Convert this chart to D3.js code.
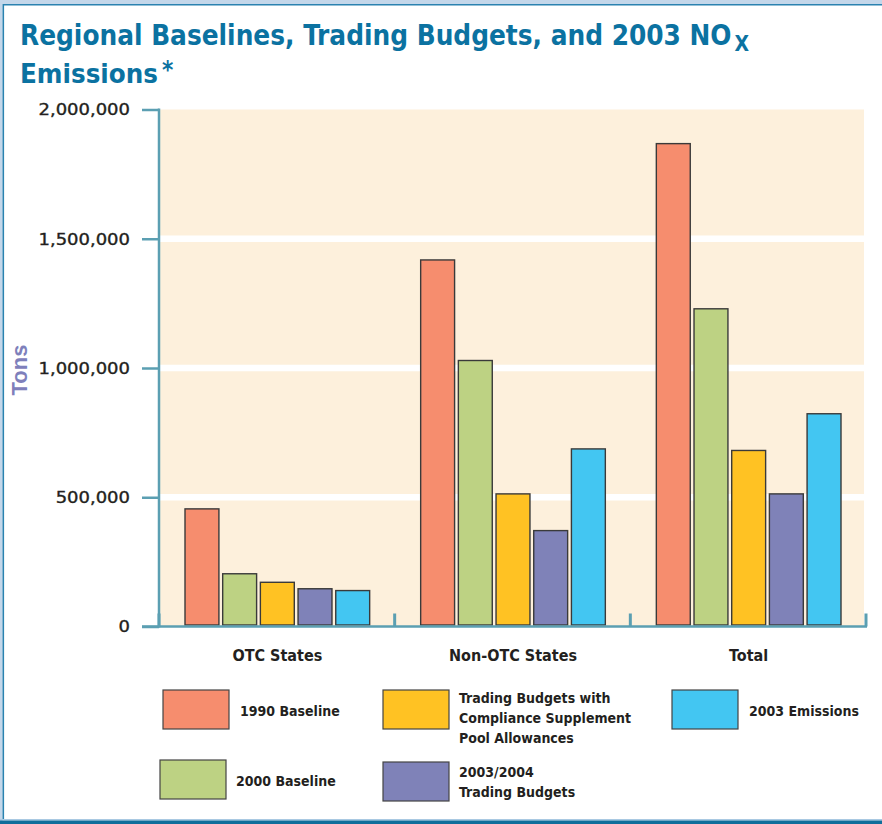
<!DOCTYPE html>
<html>
<head>
<meta charset="utf-8">
<script src="https://cdn.jsdelivr.net/npm/d3@7"></script>
<style>
  html, body { margin: 0; padding: 0; background: #ffffff; }
  svg { display: block; }
  .cond { font-family: "DejaVu Sans Condensed", "Liberation Sans Narrow", "Arial Narrow", "Liberation Sans", sans-serif; font-weight: bold; }
</style>
</head>
<body>
<svg id="chart" width="882" height="824"></svg>
<script>
// Regions on the x axis
const categories = ["OTC States", "Non-OTC States", "Total"];

// Series (tons of NOx)
const seriesNames = [
  "1990 Baseline",
  "2000 Baseline",
  "Trading Budgets with Compliance Supplement Pool Allowances",
  "2003/2004 Trading Budgets",
  "2003 Emissions"
];
const baseline1990 = [455000, 1418000, 1868000];
const baseline2000 = [204000, 1029000, 1229000];
const budgetsWithCSP = [171000, 513000, 681000];
const budgets2003_2004 = [146000, 371000, 513000];
const emissions2003 = [139000, 687000, 823000];
const seriesValues = [baseline1990, baseline2000, budgetsWithCSP, budgets2003_2004, emissions2003];
const seriesColors = ["#f68d6e", "#bdd283", "#ffc223", "#7f82b8", "#43c6f2"];

// Axis ticks
const yTicks = [0, 500000, 1000000, 1500000, 2000000];

// Legend text, split into lines
const legendLines = [
  ["1990 Baseline"],
  ["2000 Baseline"],
  ["Trading Budgets with", "Compliance Supplement", "Pool Allowances"],
  ["2003/2004", "Trading Budgets"],
  ["2003 Emissions"]
];

const svg = d3.select("#chart");
const axisColor = "#5b9fb2";

// ---- Page frame ----
svg.append("rect").attr("x", 0).attr("y", 0).attr("width", 882).attr("height", 4).attr("fill", "#c4d7ea");
svg.append("rect").attr("x", 0).attr("y", 0).attr("width", 2.5).attr("height", 824).attr("fill", "#c4d7ea");
svg.append("line").attr("x1", 3).attr("x2", 882).attr("y1", 4.8).attr("y2", 4.8).attr("stroke", "#2b82b0").attr("stroke-width", 1.6);
svg.append("line").attr("x1", 3.3).attr("x2", 3.3).attr("y1", 4).attr("y2", 820).attr("stroke", "#2b82b0").attr("stroke-width", 1.6);
svg.append("rect").attr("x", 0).attr("y", 819).attr("width", 882).attr("height", 1.5).attr("fill", "#a9c9e2");
svg.append("rect").attr("x", 0).attr("y", 820.5).attr("width", 882).attr("height", 3.5).attr("fill", "#0f6e9b");

// ---- Title: font size is fitted so each line spans its intended width ----
const titleColor = "#0b72a1";
function fittedText(str, x, yPos, width, baseSize) {
  const t = svg.append("text").attr("class", "cond")
    .attr("x", x).attr("y", yPos)
    .attr("font-size", baseSize).attr("fill", titleColor)
    .text(str);
  const w = t.node().getComputedTextLength();
  t.attr("font-size", baseSize * width / w);
  return t;
}
fittedText("Regional Baselines, Trading Budgets, and 2003 NO", 20, 45, 712, 30)
  .append("tspan").attr("dx", 3).attr("dy", 6).attr("font-size", 21).text("X");
fittedText("Emissions", 20, 83, 138, 30)
  .append("tspan").attr("dx", 4).attr("dy", -5).attr("font-size", 24).text("*");

// ---- Scales ----
const plot = { left: 159, right: 866, top: 109.5, bottom: 626.5 };
const y = d3.scaleLinear().domain([0, 2000000]).range([plot.bottom, plot.top]);
const x0 = d3.scaleBand().domain(categories).range([plot.left, plot.right]).padding(0);
const x1 = d3.scaleBand().domain(d3.range(seriesNames.length))
  .range([26, x0.bandwidth() - 25]).paddingInner(0.1).paddingOuter(0);

// ---- Plot background and gridlines ----
svg.append("rect")
  .attr("x", plot.left + 1).attr("y", y(2000000))
  .attr("width", 864 - plot.left - 1).attr("height", y(0) - y(2000000))
  .attr("fill", "#fdf0dc");
svg.append("g").selectAll("line")
  .data(yTicks.filter(t => t > 0 && t < 2000000))
  .join("line")
  .attr("x1", plot.left + 1).attr("x2", 864)
  .attr("y1", d => y(d)).attr("y2", d => y(d))
  .attr("stroke", "#ffffff").attr("stroke-width", 6.5);

// ---- Bars ----
const groups = svg.append("g").selectAll("g")
  .data(categories)
  .join("g")
  .attr("transform", d => `translate(${x0(d)},0)`);
groups.selectAll("rect")
  .data((c, ci) => seriesValues.map((vals, si) => ({ si, v: vals[ci] })))
  .join("rect")
  .attr("x", d => x1(d.si))
  .attr("y", d => y(d.v))
  .attr("width", x1.bandwidth())
  .attr("height", d => y(0) - y(d.v) - 1.5)
  .attr("fill", d => seriesColors[d.si])
  .attr("stroke", "#3a3a3a").attr("stroke-width", 1.4);

// ---- Y axis ----
const tickStretch = 1.2;
const yAxis = d3.axisLeft(y).tickValues(yTicks).tickFormat(d3.format(",")).tickSize(17).tickPadding(0);
const yg = svg.append("g").attr("transform", `translate(${plot.left},0)`).call(yAxis);
yg.select(".domain").remove();
yg.selectAll(".tick line").attr("stroke", axisColor).attr("stroke-width", 2.5);
yg.selectAll(".tick text")
  .attr("x", -29 / tickStretch).attr("dy", "0.36em")
  .attr("transform", `scale(${tickStretch},1)`)
  .attr("fill", "#231f20")
  .attr("stroke", "#231f20").attr("stroke-width", 0.35)
  .attr("font-family", "'DejaVu Sans', Verdana, sans-serif")
  .attr("font-size", 15);
svg.append("line")
  .attr("x1", plot.left).attr("x2", plot.left)
  .attr("y1", y(2000000) - 1).attr("y2", plot.bottom + 1)
  .attr("stroke", axisColor).attr("stroke-width", 2.5);

// ---- X axis ----
svg.append("line")
  .attr("x1", 142).attr("x2", plot.right + 1)
  .attr("y1", plot.bottom).attr("y2", plot.bottom)
  .attr("stroke", axisColor).attr("stroke-width", 2.5);
svg.append("g").selectAll("line")
  .data(categories.map(c => x0(c)).concat([x0(categories[categories.length - 1]) + x0.bandwidth()]))
  .join("line")
  .attr("x1", d => d).attr("x2", d => d)
  .attr("y1", plot.bottom - 13).attr("y2", plot.bottom)
  .attr("stroke", axisColor).attr("stroke-width", 3);
svg.append("g").selectAll("text")
  .data(categories)
  .join("text")
  .attr("class", "cond")
  .attr("x", d => x0(d) + 26 + (x0.bandwidth() - 51) / 2)
  .attr("y", 661)
  .attr("text-anchor", "middle")
  .attr("font-size", 16).attr("fill", "#231f20")
  .text(d => d);

// ---- Y axis title ----
svg.append("text")
  .attr("transform", "translate(27,370) rotate(-90)")
  .attr("text-anchor", "middle")
  .attr("font-family", "'Liberation Sans', Arial, sans-serif")
  .attr("font-weight", "bold")
  .attr("font-size", 22)
  .attr("fill", "#7e80bb")
  .text("Tons");

// ---- Legend ----
const legendPos = [
  { x: 163, y: 690, tx: 240, ty: 716 },
  { x: 160, y: 760, tx: 236, ty: 786 },
  { x: 383, y: 690, tx: 459, ty: 703 },
  { x: 383, y: 762, tx: 459, ty: 777 },
  { x: 672, y: 690, tx: 749, ty: 716 }
];
const legend = svg.append("g").selectAll("g")
  .data(seriesNames.map((n, i) => ({ i, n })))
  .join("g");
legend.append("rect")
  .attr("x", d => legendPos[d.i].x).attr("y", d => legendPos[d.i].y)
  .attr("width", 66).attr("height", 39)
  .attr("fill", d => seriesColors[d.i])
  .attr("stroke", "#444").attr("stroke-width", 1.2);
legend.each(function (d) {
  const p = legendPos[d.i];
  d3.select(this).selectAll("text")
    .data(legendLines[d.i])
    .join("text")
    .attr("class", "cond")
    .attr("x", p.tx).attr("y", (t, k) => p.ty + k * 20)
    .attr("font-size", 14).attr("fill", "#231f20")
    .text(t => t);
});
</script>
</body>
</html>
